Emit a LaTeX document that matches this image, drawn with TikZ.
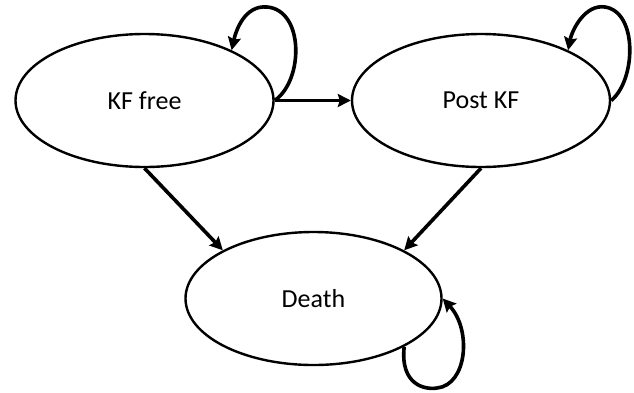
\documentclass[tikz,border=0pt]{standalone}
\usepackage{fontspec}
\setmainfont{Carlito}
\usetikzlibrary{shapes.geometric,arrows.meta}
\begin{document}
\begin{tikzpicture}[x=1pt,y=-1pt,
  state/.style={ellipse,draw=black,line width=2.4pt,inner sep=0pt,
    minimum width=258pt,minimum height=133pt,font=\fontsize{26}{30}\selectfont},
  conn/.style={line width=3.6pt,-{Stealth[length=13pt,width=13pt,inset=2pt]}}]
\useasboundingbox (0,0) rectangle (634,392);
\node[state] (kf) at (144.5,100.5) {KF free};
\node[state] (post) at (481,100.5) {Post KF};
\node[state,minimum width=256pt] (death) at (313.5,298.5) {Death};
\draw[conn] (kf.east) -- (post.west);
\draw[conn] (kf.south) -- (death.152);
\draw[conn] (post.south) -- (death.28);
\draw[conn] (kf.east) .. controls (304,80) and (304,10) .. (267,7)
  .. controls (245,5) and (236,30) .. (kf.30);
\draw[conn] (post.east) .. controls (636,80) and (638,12) .. (605,7)
  .. controls (585,4) and (572,30) .. (post.30);
\draw[conn] (death.-28) .. controls (400,385) and (425,390) .. (437,388)
  .. controls (467,385) and (472,330) .. (death.east);
\end{tikzpicture}
\end{document}
